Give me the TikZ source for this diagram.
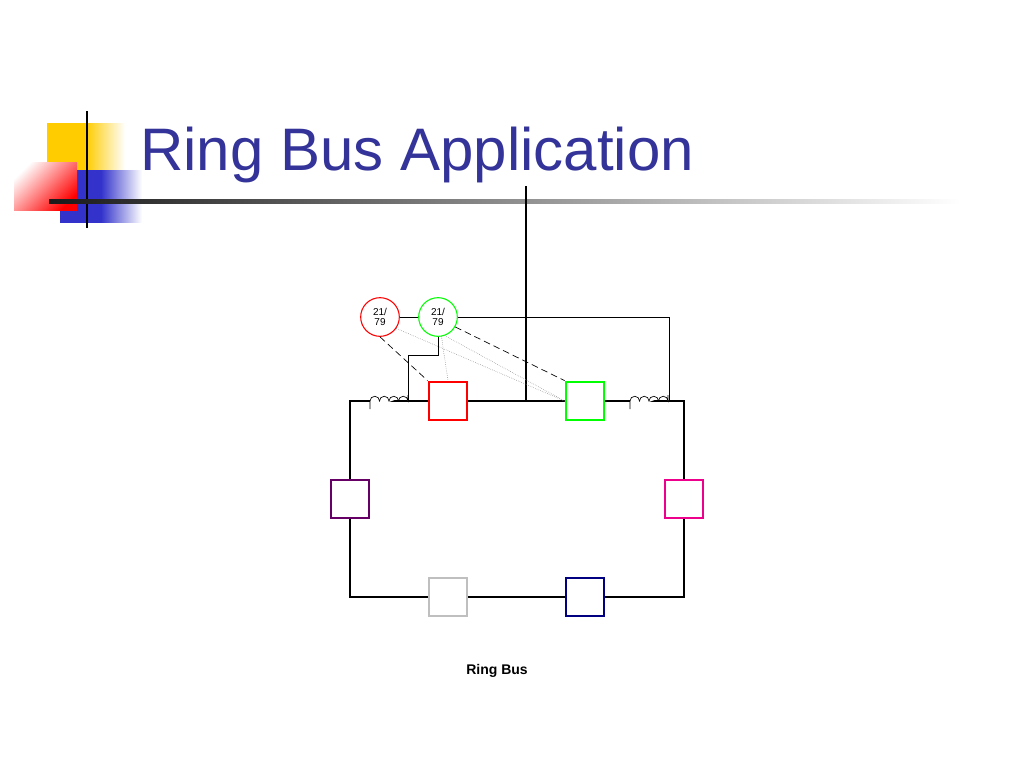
\documentclass[tikz,border=0pt]{standalone}
\usepackage{fontspec}
\setmainfont{Liberation Sans}
\usetikzlibrary{positioning}
\definecolor{titleblue}{RGB}{51,51,153}
\definecolor{sqyellow}{RGB}{255,204,0}
\definecolor{sqblue}{RGB}{51,51,204}
\tikzset{
  brk/.style = {draw = #1, line width = 1.6pt, minimum size = 29pt, inner sep = 0pt, fill = white},
  relay/.style = {draw = #1, circle, line width = 0.8pt, minimum size = 29pt, inner sep = 0pt, align = center, font = \fontsize{7.5}{8}\selectfont, fill = white},
  bus/.style = {line width = 1.5pt},
  wire/.style = {line width = 0.5pt},
  trip/.style = {line width = 0.5pt, dash pattern = on 5pt off 3pt},
  recl/.style = {line width = 0.4pt, densely dotted, gray}
}
\begin{document}
\begin{tikzpicture}[x = 0.75pt, y = -0.75pt]
\useasboundingbox (0,0) rectangle (1024,768);
% logo
\shade[left color = sqyellow, right color = white, middle color = sqyellow] (47,123) rectangle (125,170);
\shade[left color = sqblue, right color = white, middle color = sqblue] (60,170) rectangle (142,222);
\shade[left color = white, right color = red, shading angle = 45] (14,162) rectangle (77,210);
\draw[line width = 2.2pt] (87,111) -- (87,228);
\shade[left color = black!90, right color = white] (49,199.5) rectangle (960,203);
\node[anchor = base west, text = titleblue, font = \fontsize{45}{50}\selectfont, inner sep = 0pt] (title) at (140,170) {Ring Bus Application};
% ring
\coordinate (tl) at (350,401);
\coordinate (tr) at (684,401);
\coordinate (bl) at (350,597);
\coordinate (br) at (684,597);
\coordinate (feed) at (526,186);
\coordinate (tap) at (526,401);
\draw[bus] (tl) -- (tr) -- (br) -- (bl) -- cycle;
\draw[bus] (feed) -- (tap);
% current transformers
\coordinate (ctl) at (370,401);
\coordinate (ctr) at (630,401);
\foreach \c in {ctl, ctr} {
  \draw[wire, fill = white] ([yshift = -6]\c) -- (\c)
    arc (180:360:4.75) arc (180:360:4.75) arc (180:360:4.75) arc (180:360:4.75) -- ++(0,-6);
}
\coordinate (ctlend) at (408,401);
\coordinate (ctrend) at (669,401);
% breakers
\node[brk = red] (cbA) at (448,401) {};
\node[brk = green] (cbB) at (585,401) {};
\node[brk = violet!80!black] (cbC) at (350,499) {};
\node[brk = magenta] (cbD) at (684,499) {};
\node[brk = black!25] (cbE) at (448,597) {};
\node[brk = blue!50!black] (cbF) at (585,597) {};
% relays
\node[relay = red] (rlA) at (380,317) {21/\\79};
\node[relay = green] (rlB) at (438,317) {21/\\79};
\coordinate (jB) at (438,355);
\coordinate (jL) at (408,355);
\coordinate (jR) at (669,317);
\draw[wire] (rlA) -- (rlB);
\draw[wire] (rlB.east) -- (jR) -- (ctrend);
\draw[wire] (rlB.south) -- (jB) -- (jL) -- (ctlend);
\draw[trip] (rlA.south) -- (cbA.north west);
\draw[trip] (rlB.-30) -- (cbB.north west);
\draw[recl] (rlA.-35) -- (cbB.west);
\draw[recl] (rlB.-70) -- (cbB.west);
\draw[recl] (rlB.-80) -- (cbA.north);
\node[font = \bfseries\fontsize{10.5}{12}\selectfont] (caption) at (497,671) {Ring Bus};
\end{tikzpicture}
\end{document}
